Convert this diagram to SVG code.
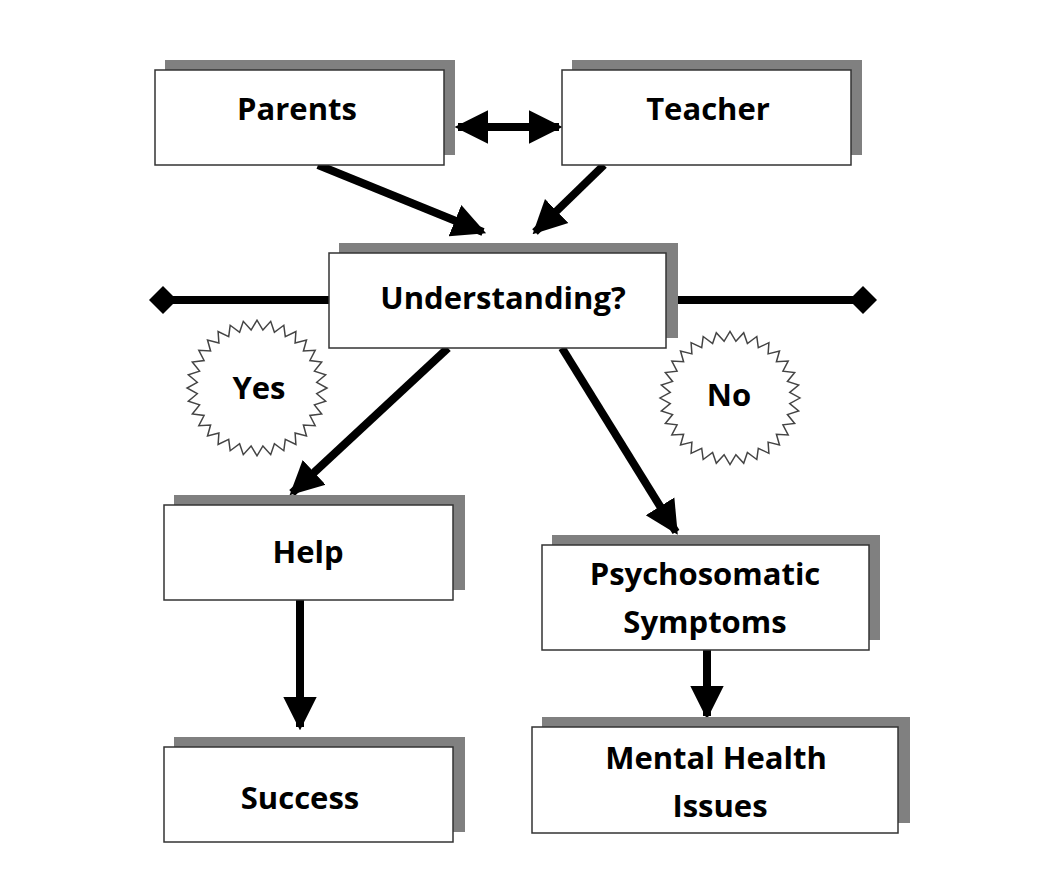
<svg xmlns="http://www.w3.org/2000/svg" width="1058" height="887" viewBox="0 0 1058 887">
<style>
.sh{fill:#808080}
.bx{fill:#fff;stroke:#333;stroke-width:1.5}
.t{font-family:"Open Sans","Liberation Sans",sans-serif;font-weight:700;font-size:31px;fill:#000;text-anchor:middle}
.c{stroke:#000;stroke-width:8;fill:none}
.star{fill:#fff;stroke:#444;stroke-width:1.5}
</style>
<defs>
<marker id="ah" viewBox="0 0 10 10" refX="9" refY="5" markerWidth="4.2" markerHeight="4.4" orient="auto-start-reverse"><path d="M0,0 L10,5 L0,10 z" fill="#000"/></marker>
<polygon id="st" points="70,0 59.7,5.9 68.7,13.7 57.4,17.4 64.7,26.8 52.9,28.3 58.2,38.9 46.4,38.1 49.5,49.5 38.1,46.4 38.9,58.2 28.3,52.9 26.8,64.7 17.4,57.4 13.7,68.7 5.9,59.7 0,70 -5.9,59.7 -13.7,68.7 -17.4,57.4 -26.8,64.7 -28.3,52.9 -38.9,58.2 -38.1,46.4 -49.5,49.5 -46.4,38.1 -58.2,38.9 -52.9,28.3 -64.7,26.8 -57.4,17.4 -68.7,13.7 -59.7,5.9 -70,0 -59.7,-5.9 -68.7,-13.7 -57.4,-17.4 -64.7,-26.8 -52.9,-28.3 -58.2,-38.9 -46.4,-38.1 -49.5,-49.5 -38.1,-46.4 -38.9,-58.2 -28.3,-52.9 -26.8,-64.7 -17.4,-57.4 -13.7,-68.7 -5.9,-59.7 0,-70 5.9,-59.7 13.7,-68.7 17.4,-57.4 26.8,-64.7 28.3,-52.9 38.9,-58.2 38.1,-46.4 49.5,-49.5 46.4,-38.1 58.2,-38.9 52.9,-28.3 64.7,-26.8 57.4,-17.4 68.7,-13.7 59.7,-5.9"/>
</defs>
<rect width="1058" height="887" fill="#fff"/>
<g id="connectors">
<line class="c" x1="458" y1="127" x2="559" y2="127" marker-start="url(#ah)" marker-end="url(#ah)"/>
<line class="c" x1="318" y1="165" x2="483" y2="232" marker-end="url(#ah)"/>
<line class="c" x1="604" y1="165" x2="535" y2="232" marker-end="url(#ah)"/>
<line class="c" x1="448" y1="348" x2="292" y2="493" marker-end="url(#ah)"/>
<line class="c" x1="562" y1="348" x2="676" y2="532" marker-end="url(#ah)"/>
<line class="c" x1="300" y1="600" x2="300" y2="727" marker-end="url(#ah)"/>
<line class="c" x1="707" y1="650" x2="707" y2="716" marker-end="url(#ah)"/>
<line class="c" x1="163" y1="300" x2="329" y2="300"/>
<polygon points="149,300 163,286 177,300 163,314" fill="#000"/>
<line class="c" x1="666" y1="300" x2="863" y2="300"/>
<polygon points="849,300 863,286 877,300 863,314" fill="#000"/>
</g>
<g id="yes"><use href="#st" class="star" transform="translate(257,388) scale(1,0.97)"/><text class="t" x="259" y="399">Yes</text></g>
<g id="no"><use href="#st" class="star" transform="translate(730,398) scale(1,0.95)"/><text class="t" x="729" y="406">No</text></g>
<g id="parents"><rect class="sh" x="165" y="60" width="290" height="95"/><rect class="bx" x="155" y="70" width="289" height="95"/><text class="t" x="297" y="120">Parents</text></g>
<g id="teacher"><rect class="sh" x="572" y="60" width="290" height="95"/><rect class="bx" x="562" y="70" width="289" height="95"/><text class="t" x="708" y="120">Teacher</text></g>
<g id="understanding"><rect class="sh" x="339" y="243" width="339" height="95"/><rect class="bx" x="329" y="253" width="337" height="95"/><text class="t" x="503" y="309">Understanding?</text></g>
<g id="help"><rect class="sh" x="174" y="495" width="291" height="95"/><rect class="bx" x="164" y="505" width="289" height="95"/><text class="t" x="308" y="563">Help</text></g>
<g id="psych"><rect class="sh" x="552" y="535" width="328" height="105"/><rect class="bx" x="542" y="545" width="327" height="105"/><text class="t" x="705" y="585">Psychosomatic</text><text class="t" x="705" y="633">Symptoms</text></g>
<g id="success"><rect class="sh" x="174" y="737" width="291" height="95"/><rect class="bx" x="164" y="747" width="289" height="95"/><text class="t" x="300" y="809">Success</text></g>
<g id="mental"><rect class="sh" x="542" y="717" width="368" height="106"/><rect class="bx" x="532" y="727" width="366" height="106"/><text class="t" x="716" y="769">Mental Health</text><text class="t" x="720" y="817">Issues</text></g>
</svg>
